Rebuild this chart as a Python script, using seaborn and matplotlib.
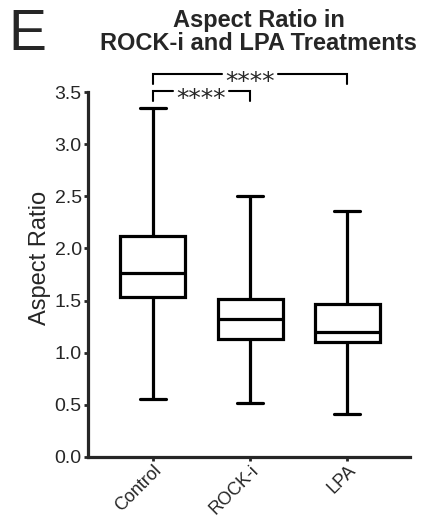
import matplotlib
matplotlib.use("Agg")
import matplotlib.pyplot as plt
import seaborn as sns
import pandas as pd

# five-number summaries (min, Q1, median, Q3, max)
groups = ["Control", "ROCK-i", "LPA"]
control = [0.56, 1.53, 1.76, 2.12, 3.35]
rock_i = [0.52, 1.13, 1.32, 1.52, 2.50]
lpa = [0.41, 1.10, 1.20, 1.47, 2.36]

df = pd.DataFrame({
    "group": [groups[0]] * 5 + [groups[1]] * 5 + [groups[2]] * 5,
    "ratio": control + rock_i + lpa,
})

sns.set_style("ticks")
plt.rcParams["font.family"] = ["Liberation Sans", "DejaVu Sans"]

fig = plt.figure(figsize=(4.25, 5.18), dpi=100)
ax = fig.add_axes([0.207, 0.118, 0.758, 0.704])

sns.boxplot(data=df, x="group", y="ratio", order=groups, whis=(0, 100),
            width=0.67, color="white", linecolor="black", linewidth=2.3,
            capwidths=0.26, ax=ax)

ax.set_xlim(-0.67, 2.65)
ax.set_ylim(0, 3.5)
ax.set_yticks([0, 0.5, 1.0, 1.5, 2.0, 2.5, 3.0, 3.5])
ax.set_yticklabels(["0.0", "0.5", "1.0", "1.5", "2.0", "2.5", "3.0", "3.5"])
ax.set_xlabel("")
ax.set_ylabel("Aspect Ratio", fontsize=17)
ax.yaxis.set_label_coords(-0.115, 0.545)
ax.tick_params(axis="y", labelsize=14, width=2, length=3, pad=1.5)
ax.tick_params(axis="x", labelsize=13, width=2, length=3, pad=0.5)
plt.setp(ax.get_xticklabels(), rotation=45, ha="right", rotation_mode="anchor")
for s in ["left", "bottom"]:
    ax.spines[s].set_linewidth(2.3)
sns.despine(ax=ax)

# significance brackets, text breaks the horizontal line
def bracket(x1, x2, y, tip, label, xm):
    kw = dict(color="black", lw=1.5, clip_on=False, solid_joinstyle="miter")
    ax.plot([x1, x1, xm - 0.29], [y - tip, y, y], **kw)
    ax.plot([xm + 0.29, x2, x2], [y, y, y - tip], **kw)
    ax.annotate(label, xy=(xm, y), xytext=(0, -10.5), textcoords="offset points",
                ha="center", va="baseline", fontsize=18,
                family="DejaVu Sans", annotation_clip=False)

bracket(0, 1, 3.51, 0.09, "****", 0.495)
bracket(0, 2, 3.67, 0.09, "****", 1.0)

fig.text(0.609, 0.948, "Aspect Ratio in", ha="center", va="baseline",
         fontsize=17, fontweight="bold")
fig.text(0.609, 0.9035, "ROCK-i and LPA Treatments", ha="center",
         va="baseline", fontsize=17, fontweight="bold")
fig.text(0.02, 0.904, "E", ha="left", va="baseline", fontsize=41)

fig.savefig("out.png", dpi=100)
